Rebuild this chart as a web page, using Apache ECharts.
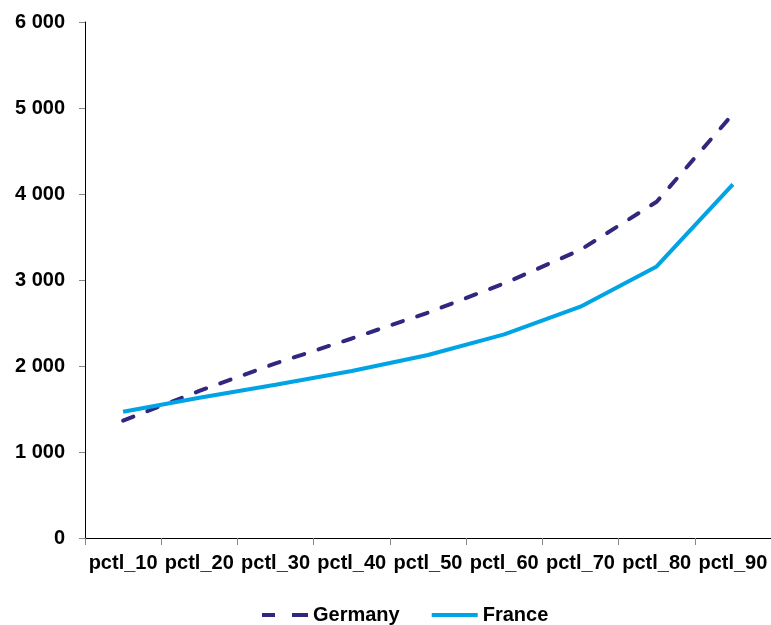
<!DOCTYPE html>
<html>
<head>
<meta charset="utf-8">
<script src="https://cdn.jsdelivr.net/npm/echarts@6/dist/echarts.min.js"></script>
<style>html,body{margin:0;padding:0;background:#fff}#c{width:771px;height:625px}</style>
</head>
<body>
<div id="c"></div>
<script>
var categories = ['pctl_10','pctl_20','pctl_30','pctl_40','pctl_50','pctl_60','pctl_70','pctl_80','pctl_90'];
var germany = [1365, 1710, 2030, 2320, 2620, 2960, 3350, 3910, 4930];
var france = [1468, 1630, 1782, 1942, 2128, 2368, 2690, 3158, 4112];
var seriesNames = ['Germany', 'France'];

var chart = echarts.init(document.getElementById('c'), null, {renderer: 'canvas'});
var fontFam = 'Arial, "Liberation Sans", sans-serif';
chart.setOption({
  animation: false,
  backgroundColor: '#ffffff',
  grid: {left: 85, right: 0, top: 22, bottom: 87, containLabel: false},
  legend: {
    top: 605,
    left: 257,
    padding: [0, 5, 0, 5],
    itemWidth: 46,
    itemHeight: 4,
    itemGap: 32,
    symbolKeepAspect: false,
    textStyle: {fontFamily: fontFam, fontWeight: 'bold', fontSize: 20, color: '#000'},
    data: [
      {name: seriesNames[0], icon: 'path://M0,0 L13,0 L13,4 L0,4 Z M30,0 L46,0 L46,4 L30,4 Z', itemStyle: {color: '#30277F'}},
      {name: seriesNames[1], icon: 'path://M0,0 L46,0 L46,4 L0,4 Z', itemStyle: {color: '#00A3E4'}}
    ]
  },
  xAxis: {
    type: 'category',
    data: categories,
    boundaryGap: true,
    axisLine: {lineStyle: {color: '#000', width: 1}},
    axisTick: {show: true, alignWithLabel: false, length: 7, lineStyle: {color: '#888'}},
    axisLabel: {fontFamily: fontFam, fontWeight: 'bold', fontSize: 20, color: '#000', margin: 15, interval: 0}
  },
  yAxis: {
    type: 'value',
    min: 0, max: 6000, interval: 1000,
    axisLine: {show: true, lineStyle: {color: '#000', width: 1}},
    axisTick: {show: true, inside: false, length: 6, lineStyle: {color: '#888'}},
    splitLine: {show: false},
    axisLabel: {
      fontFamily: fontFam, fontWeight: 'bold', fontSize: 20, color: '#000', margin: 20,
      formatter: function (v) { return String(v).replace(/\B(?=(\d{3})+(?!\d))/g, ' '); }
    }
  },
  series: [
    {
      name: seriesNames[0], type: 'line', data: germany, showSymbol: false, symbol: 'none',
      itemStyle: {color: '#30277F'},
      lineStyle: {color: '#30277F', width: 4, type: [11, 15], cap: 'round'}
    },
    {
      name: seriesNames[1], type: 'line', data: france, showSymbol: false, symbol: 'none',
      itemStyle: {color: '#00A3E4'},
      lineStyle: {color: '#00A3E4', width: 4}
    }
  ]
});
</script>
</body>
</html>
